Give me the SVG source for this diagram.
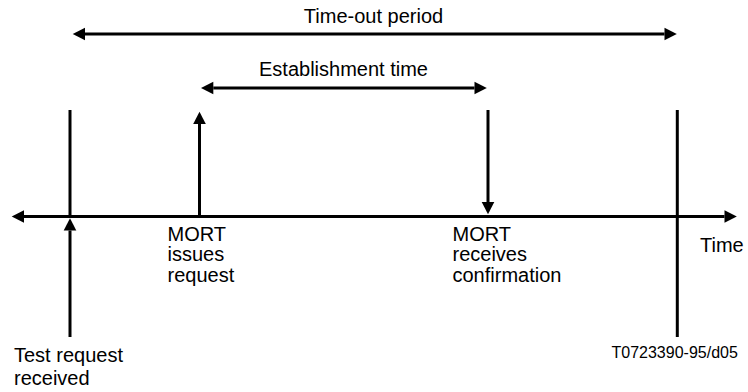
<svg xmlns="http://www.w3.org/2000/svg" width="748" height="392" viewBox="0 0 748 392">
<style>
.ln{stroke:#000;stroke-width:3;fill:none}
.ar{marker-end:url(#ah)}
.dbl{marker-start:url(#ah);marker-end:url(#ah)}
text{font-family:"Liberation Sans",Arial,sans-serif;font-size:20px;fill:#000}
.sm{font-size:16px}
</style>
<defs>
<marker id="ah" markerUnits="userSpaceOnUse" markerWidth="14" markerHeight="14" viewBox="0 -7 13 14" refX="0" refY="0" orient="auto-start-reverse">
<path d="M0,-6.3 L12.3,0 L0,6.3 Z" fill="#000"/>
</marker>
</defs>
<rect width="748" height="392" fill="#fff"/>
<g id="connectors">
<line class="ln dbl" x1="85" y1="34" x2="664.5" y2="34"/>
<line class="ln dbl" x1="213.3" y1="88" x2="474.5" y2="88"/>
<line class="ln dbl" x1="24" y1="216.5" x2="724.5" y2="216.5"/>
</g>
<g id="timeout-label"><text x="373.5" y="23" text-anchor="middle">Time-out period</text></g>
<g id="establishment-label"><text x="343.5" y="76" text-anchor="middle">Establishment time</text></g>
<g id="test-request">
<line class="ln" x1="70" y1="110" x2="70" y2="216.5"/>
<line class="ln ar" x1="70" y1="337" x2="70" y2="230.5"/>
<text x="14" y="362">Test request</text>
<text x="14" y="384.5">received</text>
</g>
<g id="mort-issues">
<line class="ln ar" x1="199.5" y1="216.5" x2="199.5" y2="124"/>
<text x="167.5" y="240.5">MORT</text>
<text x="167.5" y="261">issues</text>
<text x="167.5" y="281.5">request</text>
</g>
<g id="mort-receives">
<line class="ln ar" x1="488" y1="110" x2="488" y2="202"/>
<text x="452.5" y="240.5">MORT</text>
<text x="452.5" y="261">receives</text>
<text x="452.5" y="281.5">confirmation</text>
</g>
<g id="timeout-end">
<line class="ln" x1="677.3" y1="110" x2="677.3" y2="337"/>
</g>
<g id="time-label"><text x="700" y="251.5">Time</text></g>
<g id="ref-code"><text class="sm" x="611.5" y="357.5">T0723390-95/d05</text></g>
</svg>
